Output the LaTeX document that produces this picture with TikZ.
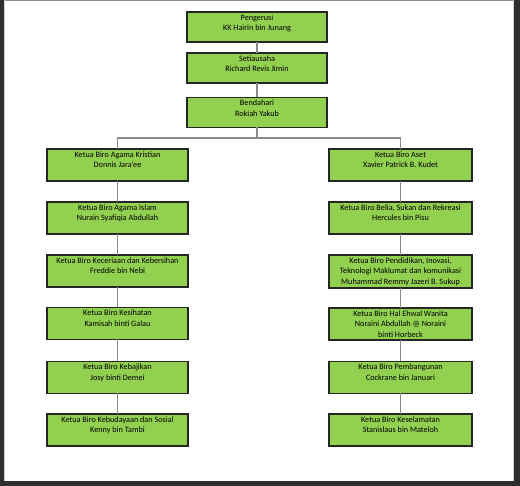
\documentclass[tikz,border=0pt]{standalone}
\usepackage{fontspec}
\setmainfont{Carlito}
\definecolor{boxgreen}{HTML}{92D050}
\definecolor{frameDark}{HTML}{2E2E2E}
\definecolor{conn}{HTML}{8A8A8A}
\begin{document}
\begin{tikzpicture}[x=1pt,y=-1pt,
  orgbox/.style={draw=black!85,line width=1.1pt,fill=boxgreen,inner sep=0pt,outer sep=0pt},
  link/.style={draw=conn,line width=1.1pt}]
\newcommand{\boxtext}[3]{\parbox[c][#2pt][t]{#1pt}{\centering\fontsize{8.2pt}{10.3pt}\selectfont\vspace{2.8pt}#3\par}}
% page
\fill[white] (0,0) rectangle (520,486);
\useasboundingbox (0,0) rectangle (520,486);
\fill[frameDark] (0,0) rectangle (3.5,486);
\fill[frameDark] (514,0) rectangle (520,486);
\fill[frameDark] (0,481) rectangle (520,486);
\fill[black!45] (3.5,0) rectangle (514,1.5);
\fill[black!18] (3.5,0) rectangle (4.5,481);
\fill[black!18] (513,0) rectangle (514,481);
% top chain
\node[orgbox] (b1) at (257,27) {\boxtext{140}{30}{Pengerusi\\KK Hairin bin Junang}};
\node[orgbox] (b2) at (257,68) {\boxtext{140}{30}{Setiausaha\\Richard Revis Jimin}};
\node[orgbox] (b3) at (257,112.5) {\boxtext{140}{30}{Bendahari\\Rokiah Yakub}};
% left column
\node[orgbox] (l1) at (117.5,165) {\boxtext{141}{32}{Ketua Biro Agama Kristian\\Donnis Jara'ee}};
\node[orgbox] (l2) at (117.5,218) {\boxtext{141}{32}{Ketua Biro Agama Islam\\Nurain Syafiqia Abdullah}};
\node[orgbox] (l3) at (117.5,271) {\boxtext{141}{32}{Ketua Biro Keceriaan dan Kebersihan\\Freddie bin Nebi}};
\node[orgbox] (l4) at (117.5,323.5) {\boxtext{141}{32}{Ketua Biro Kesihatan\\Kamisah binti Galau}};
\node[orgbox] (l5) at (117.5,377.5) {\boxtext{141}{32}{Ketua Biro Kebajikan\\Josy binti Demei}};
\node[orgbox] (l6) at (117.5,430) {\boxtext{141}{32}{Ketua Biro Kebudayaan dan Sosial\\Kenny bin Tambi}};
% right column
\node[orgbox] (r1) at (400.5,165) {\boxtext{143}{32}{Ketua Biro Aset\\Xavier Patrick B. Kudet}};
\node[orgbox] (r2) at (400.5,218) {\boxtext{143}{32}{Ketua Biro Belia, Sukan dan Rekreasi\\Hercules bin Pisu}};
\node[orgbox] (r3) at (400.5,271.5) {\boxtext{143}{33}{Ketua Biro Pendidikan, Inovasi,\\Teknologi Maklumat dan komunikasi\\Muhammad Remmy Jazeri B. Sukup}};
\node[orgbox] (r4) at (400.5,324) {\boxtext{143}{32}{Ketua Biro Hal Ehwal Wanita\\Noraini Abdullah @ Noraini\\binti Horbeck}};
\node[orgbox] (r5) at (400.5,377.5) {\boxtext{143}{32}{Ketua Biro Pembangunan\\Cockrane bin Januari}};
\node[orgbox] (r6) at (400.5,430) {\boxtext{143}{32}{Ketua Biro Keselamatan\\Stanislaus bin Mateloh}};
% connectors
\coordinate (j) at (257,138);
\draw[link] (b1.south) -- (b2.north);
\draw[link] (b2.south) -- (b3.north);
\draw[link] (b3.south) -- (j);
\draw[link] (l1.north) -- (l1.north |- j) -- (r1.north |- j) -- (r1.north);
\foreach \a/\b in {l1/l2,l2/l3,l3/l4,l4/l5,l5/l6,r1/r2,r2/r3,r3/r4,r4/r5,r5/r6}
  \draw[link] (\a.south) -- (\b.north);
\end{tikzpicture}
\end{document}
